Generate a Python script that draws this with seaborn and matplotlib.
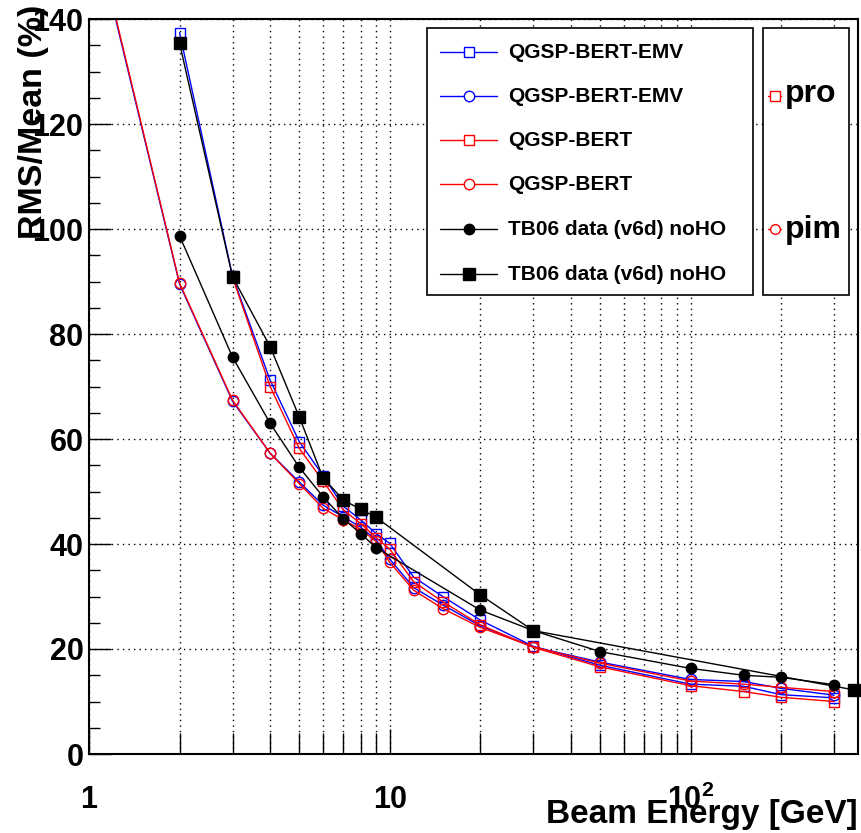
import numpy as np
import pandas as pd
import matplotlib
matplotlib.use("Agg")
import matplotlib.pyplot as plt
import seaborn as sns
from matplotlib.ticker import FixedLocator, FixedFormatter, MultipleLocator, NullFormatter
from matplotlib.lines import Line2D
from matplotlib.patches import Rectangle

# ---------------- data ----------------
energy_mc = [2, 3, 4, 5, 6, 7, 8, 9, 10, 12, 15, 20, 30, 50, 100, 150, 200, 300]
pro_emv = [137.4, 91.0, 71.2, 59.5, 53.0, 47.2, 44.6, 42.0, 40.1, 33.7, 30.0, 25.5,
           20.5, 16.9, 13.3, 12.9, 11.3, 10.7]

energy_pro_bert = [3, 4, 5, 6, 7, 8, 9, 10, 12, 15, 20, 30, 50, 100, 150, 200, 300]
pro_bert = [90.8, 70.0, 58.2, 52.0, 46.5, 43.9, 41.2, 39.0, 32.8, 29.0, 24.6, 20.3,
            16.6, 13.0, 11.9, 10.8, 10.0]

energy_pim = [1, 2, 3, 4, 5, 6, 7, 8, 9, 10, 12, 15, 20, 30, 50, 100, 150, 200, 300]
pim_emv = [161.0, 89.5, 67.2, 57.3, 51.8, 47.4, 45.2, 43.2, 40.8, 37.1, 31.7, 28.4,
           24.4, 20.4, 17.5, 14.2, 13.8, 12.5, 11.2]
pim_bert = [161.5, 89.7, 67.4, 57.3, 51.5, 46.8, 44.6, 42.8, 40.5, 36.5, 31.2, 27.7,
            24.1, 20.4, 17.3, 13.9, 13.3, 12.7, 11.9]

energy_data_circ = [2, 3, 4, 5, 6, 7, 8, 9, 20, 30, 50, 100, 150, 200, 300]
data_circ = [98.7, 75.6, 63.0, 54.6, 49.0, 44.8, 42.0, 39.3, 27.4, 23.5, 19.5, 16.3,
             15.0, 14.6, 13.2]

energy_data_sq = [2, 3, 4, 5, 6, 7, 8, 9, 20, 30, 350]
data_sq = [135.4, 90.9, 77.6, 64.2, 52.6, 48.4, 46.6, 45.1, 30.3, 23.5, 12.2]

legend_labels = ["QGSP-BERT-EMV", "QGSP-BERT-EMV", "QGSP-BERT", "QGSP-BERT",
                 "TB06 data (v6d) noHO", "TB06 data (v6d) noHO"]
particle_labels = ["pro", "pim"]

x_major = [1, 10, 100]
x_major_labels = ["1", "10", r"$\mathbf{10^{2}}$"]
x_minor = [2, 3, 4, 5, 6, 7, 8, 9, 20, 30, 40, 50, 60, 70, 80, 90, 200, 300]

# ---------------- style ----------------
sns.set_theme(style="white")
plt.rcParams["font.family"] = ["Liberation Sans", "DejaVu Sans"]
plt.rcParams["font.weight"] = "bold"
plt.rcParams["mathtext.fontset"] = "custom"
plt.rcParams["mathtext.rm"] = "Liberation Sans:bold"
plt.rcParams["mathtext.bf"] = "Liberation Sans:bold"
plt.rcParams["mathtext.it"] = "Liberation Sans:bold"

W, H = 861, 833
fig = plt.figure(figsize=(W / 100, H / 100), dpi=100)
L, R, T, B = 89, 858, 19, 754
ax = fig.add_axes([L / W, 1 - B / H, (R - L) / W, (B - T) / H])
ax.set_xscale("log")

BLUE = "#0000ff"
RED = "#ff0000"
BLACK = "#000000"

def draw(xs, ys, color, marker, filled, ms, **extra):
    df = pd.DataFrame({"E": xs, "v": ys})
    sns.lineplot(data=df, x="E", y="v", ax=ax, color=color, marker=marker,
                 markersize=ms, markerfacecolor=(color if filled else "none"),
                 markeredgecolor=color, markeredgewidth=1.0, linewidth=1.0,
                 sort=False, estimator=None, errorbar=None, **extra)

draw(energy_mc, pro_emv, BLUE, "s", False, 7)
draw(energy_pim, pim_emv, BLUE, "o", False, 7.5)
draw(energy_pro_bert, pro_bert, RED, "s", False, 7)
draw(energy_pim, pim_bert, RED, "o", False, 7.5)
draw(energy_data_circ, data_circ, BLACK, "o", True, 7.5)
draw(energy_data_sq, data_sq, BLACK, "s", True, 8.5, clip_on=False)

ax.set_xlim(1, 360)
ax.set_ylim(0, 140)

# ticks
ax.xaxis.set_major_locator(FixedLocator(x_major))
ax.xaxis.set_major_formatter(FixedFormatter(x_major_labels))
ax.xaxis.set_minor_locator(FixedLocator(x_minor))
ax.xaxis.set_minor_formatter(NullFormatter())
ax.yaxis.set_major_locator(MultipleLocator(20))
ax.yaxis.set_minor_locator(MultipleLocator(5))

ax.tick_params(axis="x", which="major", direction="in", length=18, width=1,
               color="black", labelsize=22, pad=22, labelcolor="black",
               bottom=True, top=False)
ax.tick_params(axis="x", which="minor", direction="in", length=15, width=1,
               color="black", bottom=True, top=False)
ax.tick_params(axis="y", which="major", direction="in", length=16, width=1,
               color="black", labelsize=22, pad=4, labelcolor="black",
               left=True, right=False)
ax.tick_params(axis="y", which="minor", direction="in", length=8, width=1,
               color="black", left=True, right=False)

# grid
ax.grid(True, which="both", axis="x", color="black", linestyle=(0, (1, 3)), linewidth=1)
ax.grid(True, which="major", axis="y", color="black", linestyle=(0, (1, 3)), linewidth=1)
ax.set_axisbelow(True)

for s in ax.spines.values():
    s.set_color("black")
    s.set_linewidth(1.5)

ax.set_xlabel("Beam Energy [GeV]", fontsize=24, fontweight="bold", loc="right", color="black")
ax.xaxis.set_label_coords(1.0, -0.061)
ax.set_ylabel("RMS/Mean (%)", fontsize=24.5, fontweight="bold", loc="top", color="black")
ax.yaxis.set_label_coords(-0.052, 1.019)

# ---------------- legends (drawn in figure pixel coords) ----------------
def fx(px):
    return px / W

def fy(py):
    return 1 - py / H

def box(x0, y0, x1, y1):
    r = Rectangle((fx(x0), fy(y1)), (x1 - x0) / W, (y1 - y0) / H,
                  transform=fig.transFigure, facecolor="white", edgecolor="black",
                  linewidth=1.2, zorder=10)
    fig.add_artist(r)

box(427, 28, 753, 295)
leg_styles = [(BLUE, "s", False, 7), (BLUE, "o", False, 7.5), (RED, "s", False, 7),
              (RED, "o", False, 7.5), (BLACK, "o", True, 7.5), (BLACK, "s", True, 8.5)]
rows = [52, 96, 140, 184, 229, 274]
for (c, m, f, ms), lab, yy in zip(leg_styles, legend_labels, rows):
    fig.add_artist(Line2D([fx(440), fx(497)], [fy(yy), fy(yy)], transform=fig.transFigure,
                          color=c, linewidth=1.0, zorder=11))
    fig.add_artist(Line2D([fx(469)], [fy(yy)], transform=fig.transFigure, color=c,
                          marker=m, markersize=ms, markerfacecolor=(c if f else "white"),
                          markeredgecolor=c, markeredgewidth=1.0, zorder=12))
    fig.text(fx(508), fy(yy), lab, fontsize=15, fontweight="bold", color="black",
             va="center", ha="left", zorder=12)

box(763, 28, 849, 295)
for m, lab, ym, yb in zip(["s", "o"], particle_labels, [96, 229], [102, 238]):
    fig.add_artist(Line2D([fx(768), fx(781)], [fy(ym), fy(ym)], transform=fig.transFigure,
                          color=RED, linewidth=1.0, zorder=11))
    fig.add_artist(Line2D([fx(774.5)], [fy(ym)], transform=fig.transFigure, color=RED,
                          marker=m, markersize=7, markerfacecolor="white",
                          markeredgecolor=RED, markeredgewidth=1.0, zorder=12))
    fig.text(fx(785), fy(yb), lab, fontsize=23, fontweight="bold", color="black",
             va="baseline", ha="left", zorder=12)

fig.savefig("out.png", dpi=100, facecolor="white")
